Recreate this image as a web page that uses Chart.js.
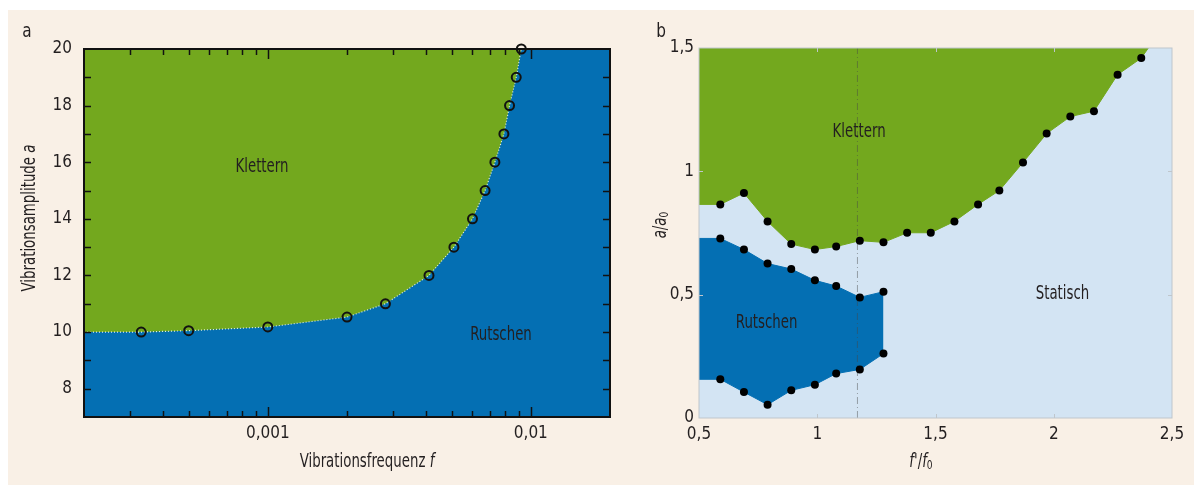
<!DOCTYPE html>
<html lang="de">
<head>
<meta charset="UTF-8">
<title>Klettern, Rutschen, Statisch</title>
<script src="https://cdn.jsdelivr.net/npm/chart.js"></script>
<style>
  body { margin: 0; background: #fff; }
  #panel { position: absolute; left: 8px; top: 10px; width: 1186px; height: 475px; background: #f9f0e6; }
  canvas { position: absolute; top: 0; }
  #chartA { left: 0; }
  #chartB { left: 640px; }
</style>
</head>
<body>
<div id="panel"></div>
<canvas id="chartA" width="640" height="485"></canvas>
<canvas id="chartB" width="554" height="485"></canvas>
<script>
// --- panel a: climbing boundary over frequency (log axis)
const freqA = [0.00033, 0.0005, 0.001, 0.002, 0.0028, 0.0041, 0.0051, 0.006, 0.0067, 0.0073, 0.0079, 0.0083, 0.0088, 0.0092];
const ampA = [10.0, 10.05, 10.18, 10.53, 11.0, 12.0, 13.0, 14.0, 15.0, 16.0, 17.0, 18.0, 19.0, 20.0];
const freqLabelsA = [0.001, 0.01];
const freqMinorA = [0.0003, 0.0004, 0.0005, 0.0006, 0.0007, 0.0008, 0.0009, 0.002, 0.003, 0.004, 0.005, 0.006, 0.007, 0.008, 0.009];
const ampLabelsA = [8, 10, 12, 14, 16, 18, 20];
const ampMinorA = [8, 9, 10, 11, 12, 13, 14, 15, 16, 17, 18, 19];

// --- panel b: normalised frequency / amplitude
const freqB = [0.59, 0.69, 0.79, 0.89, 0.99, 1.08, 1.18, 1.28, 1.38, 1.48, 1.58, 1.68, 1.77, 1.87, 1.97, 2.07, 2.17, 2.27, 2.37];
const climbB = [0.866, 0.912, 0.797, 0.705, 0.683, 0.695, 0.719, 0.712, 0.751, 0.751, 0.797, 0.866, 0.922, 1.036, 1.153, 1.222, 1.244, 1.392, 1.459];
const climbEndB = [2.40, 1.5];
const slideFreqB = [0.59, 0.69, 0.79, 0.89, 0.99, 1.08, 1.18, 1.28];
const slideTopB = [0.728, 0.683, 0.626, 0.604, 0.558, 0.535, 0.489, 0.512];
const slideBotB = [0.157, 0.105, 0.054, 0.112, 0.135, 0.18, 0.197, 0.261];
const markerLineB = 1.17;
const freqLabelsB = [0.5, 1, 1.5, 2, 2.5];
const ampLabelsB = [0, 0.5, 1, 1.5];

const FONT = "'Liberation Sans Narrow', 'DejaVu Sans Condensed', 'Roboto Condensed', Roboto, sans-serif";
const INK = '#231f20';
const GREEN = '#73a81e';
const BLUE = '#046fb3';
const LIGHT = '#d3e4f3';

Chart.defaults.font.family = FONT;
Chart.defaults.color = INK;

const fmt = v => String(v).replace('.', ',');
const pts = (xs, ys) => xs.map((x, i) => ({ x: x, y: ys[i] }));

// background of the plot area
const areaFill = {
  id: 'areaFill',
  beforeDraw(chart, args, o) {
    const { ctx, chartArea: a } = chart;
    ctx.save();
    ctx.fillStyle = o.color;
    ctx.fillRect(a.left, a.top, a.width, a.height);
    ctx.restore();
  }
};

// box round the plot with inward ticks
const frame = {
  id: 'frame',
  afterDraw(chart, args, o) {
    const { ctx, chartArea: a } = chart;
    const x = chart.scales.x, y = chart.scales.y;
    ctx.save();
    ctx.strokeStyle = o.color;
    ctx.lineWidth = o.width;
    ctx.strokeRect(a.left, a.top, a.width, a.height);
    ctx.lineWidth = o.tickWidth;
    ctx.beginPath();
    o.xTicks.forEach(([v, len]) => {
      const px = Math.round(x.getPixelForValue(v)) + 0.5;
      ctx.moveTo(px, a.bottom); ctx.lineTo(px, a.bottom - len);
      ctx.moveTo(px, a.top); ctx.lineTo(px, a.top + len);
    });
    o.yTicks.forEach(([v, len]) => {
      const py = Math.round(y.getPixelForValue(v)) + 0.5;
      ctx.moveTo(a.left, py); ctx.lineTo(a.left + len, py);
      ctx.moveTo(a.right, py); ctx.lineTo(a.right - len, py);
    });
    ctx.stroke();
    ctx.restore();
  }
};

// mixed roman / italic / subscript text, squeezed to look like a condensed face
function drawRich(ctx, parts, cx, cy, angle, size, squeeze) {
  ctx.save();
  ctx.translate(cx, cy);
  ctx.rotate(angle || 0);
  ctx.scale(squeeze, 1);
  const fonts = parts.map(p => (p[1] ? 'italic ' : '') + (p[2] ? Math.round(size * 0.7) : size) + 'px ' + FONT);
  let w = 0;
  parts.forEach((p, i) => { ctx.font = fonts[i]; w += ctx.measureText(p[0]).width; });
  let xx = -w / 2;
  ctx.textBaseline = 'middle';
  ctx.fillStyle = INK;
  parts.forEach((p, i) => {
    ctx.font = fonts[i];
    ctx.fillText(p[0], xx, p[2] ? 4 : 0);
    xx += ctx.measureText(p[0]).width;
  });
  ctx.restore();
}

// region names, axis titles and panel letters
const texts = {
  id: 'texts',
  afterDraw(chart, args, o) {
    const { ctx } = chart;
    const x = chart.scales.x, y = chart.scales.y;
    o.regions.forEach(([t, vx, vy]) =>
      drawRich(ctx, [[t, false]], x.getPixelForValue(vx), y.getPixelForValue(vy), 0, 19, 0.78));
    drawRich(ctx, [[o.letter[0], false]], o.letter[1], o.letter[2], 0, 20, 0.85);
    drawRich(ctx, o.yTitle, o.yTitlePos[0], o.yTitlePos[1], -Math.PI / 2, 19, 0.78);
    drawRich(ctx, o.xTitle, o.xTitlePos[0], o.xTitlePos[1], 0, 19, 0.78);
  }
};

const tickFont = { size: 17 };

// ---------- chart a
const boundaryA = [{ x: 0.0002, y: ampA[0] }].concat(pts(freqA, ampA));

new Chart(document.getElementById('chartA'), {
  type: 'line',
  data: {
    datasets: [
      {
        data: pts(freqA, ampA), showLine: false, clip: false,
        pointRadius: 4.5, pointBorderWidth: 2, pointBorderColor: '#111',
        pointBackgroundColor: 'rgba(0,0,0,0)'
      },
      {
        data: boundaryA, fill: 'end', backgroundColor: GREEN,
        borderColor: 'rgba(255,255,255,0.85)', borderWidth: 1.2, borderDash: [1, 2],
        pointRadius: 0, tension: 0
      }
    ]
  },
  options: {
    responsive: false,
    animation: false,
    layout: { padding: { top: 49, right: 30, left: 0, bottom: 0 } },
    plugins: {
      legend: { display: false },
      tooltip: { enabled: false },
      areaFill: { color: BLUE },
      frame: {
        color: '#111', width: 2, tickWidth: 1.5,
        xTicks: freqMinorA.map(v => [v, 6]).concat(freqLabelsA.map(v => [v, 10])),
        yTicks: ampMinorA.map(v => [v, 7])
      },
      texts: {
        regions: [['Klettern', 0.00095, 15.83], ['Rutschen', 0.0077, 9.89]],
        letter: ['a', 27, 32],
        yTitle: [['Vibrationsamplitude ', false], ['a', true]],
        yTitlePos: [30, 218],
        xTitle: [['Vibrationsfrequenz ', false], ['f', true]],
        xTitlePos: [367, 462]
      }
    },
    scales: {
      x: {
        type: 'logarithmic', min: 0.0002, max: 0.02,
        grid: { display: false, drawTicks: false }, border: { display: false },
        ticks: { padding: 6, font: tickFont, color: INK, maxRotation: 0, autoSkip: false, callback: v => fmt(v) },
        afterBuildTicks: s => { s.ticks = freqLabelsA.map(v => ({ value: v })); },
        afterFit: s => { s.height = 68; }
      },
      y: {
        type: 'linear', min: 7, max: 20,
        grid: { display: false, drawTicks: false }, border: { display: false },
        ticks: { padding: 12, font: tickFont, color: INK, callback: v => fmt(v) },
        afterBuildTicks: s => { s.ticks = ampLabelsA.map(v => ({ value: v })); },
        afterFit: s => { s.width = 84; }
      }
    }
  },
  plugins: [areaFill, frame, texts]
});

// ---------- chart b
const climbLineB = [{ x: 0.5, y: climbB[0] }].concat(pts(freqB, climbB), [{ x: climbEndB[0], y: climbEndB[1] }]);
const slideUpperB = [{ x: 0.5, y: slideTopB[0] }].concat(pts(slideFreqB, slideTopB));
const slideLowerB = [{ x: 0.5, y: slideBotB[0] }].concat(pts(slideFreqB, slideBotB));
const dotStyle = { showLine: false, clip: false, pointRadius: 4, pointBorderWidth: 0, pointBackgroundColor: '#000' };

new Chart(document.getElementById('chartB'), {
  type: 'line',
  data: {
    datasets: [
      Object.assign({ data: pts(freqB, climbB) }, dotStyle),
      Object.assign({ data: pts(slideFreqB, slideTopB) }, dotStyle),
      Object.assign({ data: pts(slideFreqB, slideBotB) }, dotStyle),
      {
        data: [{ x: markerLineB, y: 0 }, { x: markerLineB, y: 1.5 }],
        borderColor: 'rgba(70,70,70,0.45)', borderWidth: 1, borderDash: [7, 3, 1, 3],
        pointRadius: 0, fill: false
      },
      {
        data: climbLineB, fill: 'end', backgroundColor: GREEN,
        borderColor: GREEN, borderWidth: 1, pointRadius: 0, tension: 0
      },
      {
        data: slideUpperB, fill: '+1', backgroundColor: BLUE,
        borderColor: BLUE, borderWidth: 1, pointRadius: 0, tension: 0
      },
      {
        data: slideLowerB, fill: false,
        borderColor: BLUE, borderWidth: 1, pointRadius: 0, tension: 0
      }
    ]
  },
  options: {
    responsive: false,
    animation: false,
    layout: { padding: { top: 48, right: 22, left: 0, bottom: 0 } },
    plugins: {
      legend: { display: false },
      tooltip: { enabled: false },
      areaFill: { color: LIGHT },
      frame: {
        color: '#bfc6cc', width: 1, tickWidth: 1,
        xTicks: [1, 1.5, 2].map(v => [v, 4]),
        yTicks: [0.5, 1].map(v => [v, 4])
      },
      texts: {
        regions: [['Klettern', 1.177, 1.158], ['Rutschen', 0.786, 0.384], ['Statisch', 2.037, 0.501]],
        letter: ['b', 21, 32],
        yTitle: [['a', true], ['/', false], ['a', true], ['0', false, true]],
        yTitlePos: [21, 225],
        xTitle: [['f', true], ["'/", false], ['f', true], ['0', false, true]],
        xTitlePos: [281, 462]
      }
    },
    scales: {
      x: {
        type: 'linear', min: 0.5, max: 2.5,
        grid: { display: false, drawTicks: false }, border: { display: false },
        ticks: { padding: 6, font: tickFont, color: INK, maxRotation: 0, autoSkip: false, callback: v => fmt(v) },
        afterBuildTicks: s => { s.ticks = freqLabelsB.map(v => ({ value: v })); },
        afterFit: s => { s.height = 67; }
      },
      y: {
        type: 'linear', min: 0, max: 1.5,
        grid: { display: false, drawTicks: false }, border: { display: false },
        ticks: { padding: 5, font: tickFont, color: INK, callback: v => fmt(v) },
        afterBuildTicks: s => { s.ticks = ampLabelsB.map(v => ({ value: v })); },
        afterFit: s => { s.width = 59; }
      }
    }
  },
  plugins: [areaFill, frame, texts]
});
</script>
</body>
</html>
